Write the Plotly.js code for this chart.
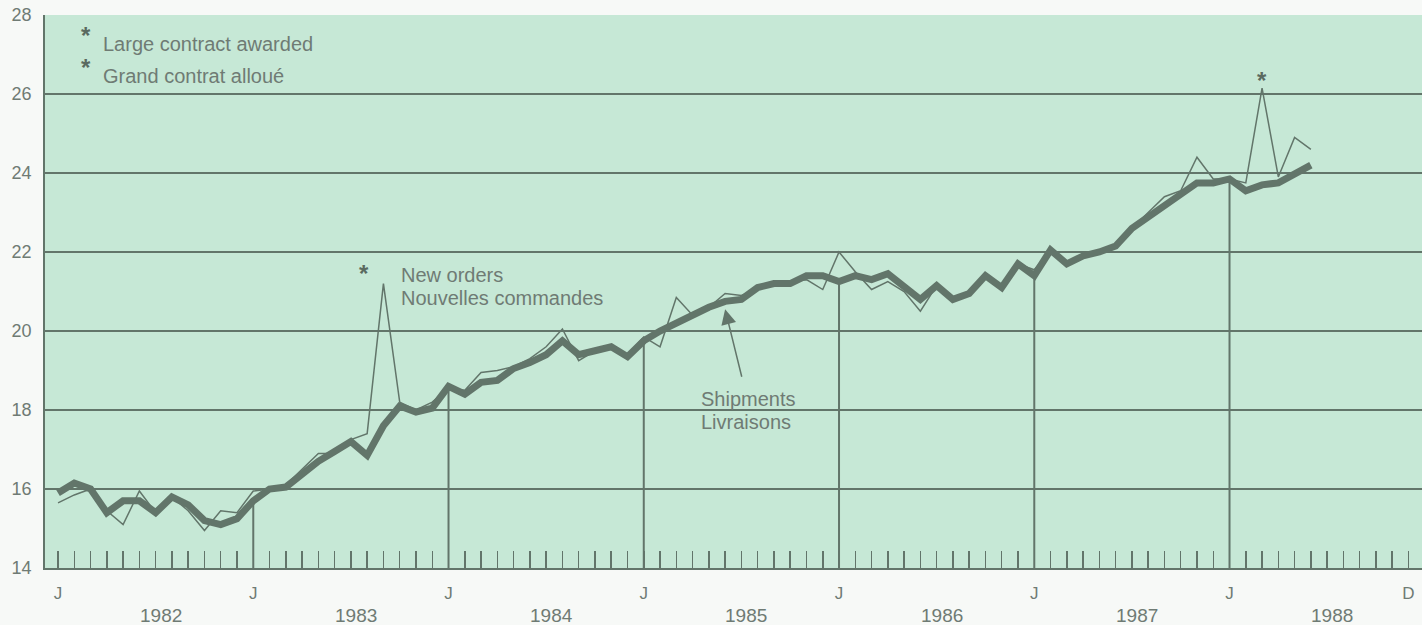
<!DOCTYPE html>
<html>
<head>
<meta charset="utf-8">
<script src="https://cdn.plot.ly/plotly-3.0.1.min.js"></script>
<style>
  html, body { margin: 0; padding: 0; background: #f7f9f7; }
  #chart { width: 1422px; height: 625px; }
</style>
</head>
<body>
<div id="chart"></div>
<script>
// Month index 0 = January 1982
const years = [1982, 1983, 1984, 1985, 1986, 1987, 1988];
const tickMonths = [0, 12, 24, 36, 48, 60, 72, 83];
const tickLabels = ['J', 'J', 'J', 'J', 'J', 'J', 'J', 'D'];

// Shipments / Livraisons (thick line)
const shipments = [
  15.9, 16.15, 16.0, 15.4, 15.7, 15.7, 15.4, 15.8, 15.6, 15.2, 15.1, 15.25,
  15.7, 16.0, 16.05, 16.4, 16.7, 16.95, 17.2, 16.85, 17.6, 18.1, 17.95, 18.05,
  18.6, 18.4, 18.7, 18.75, 19.05, 19.2, 19.4, 19.75, 19.4, 19.5, 19.6, 19.35,
  19.75, 20.0, 20.2, 20.4, 20.6, 20.75, 20.8, 21.1, 21.2, 21.2, 21.4, 21.4,
  21.25, 21.4, 21.3, 21.45, 21.1, 20.8, 21.15, 20.8, 20.95, 21.4, 21.1, 21.7,
  21.4, 22.05, 21.7, 21.9, 22.0, 22.15, 22.6, 22.9, 23.2, 23.5, 23.75, 23.75,
  23.85, 23.55, 23.7, 23.75, 24.0, 24.2
];

// New orders / Nouvelles commandes (thin line)
const newOrders = [
  15.65, 15.85, 16.0, 15.45, 15.1, 15.95, 15.4, 15.8, 15.45, 14.95, 15.45, 15.4,
  15.95, 16.0, 16.1, 16.5, 16.9, 16.9, 17.25, 17.4, 21.2, 18.2, 18.0, 18.2,
  18.55, 18.5, 18.95, 19.0, 19.1, 19.3, 19.6, 20.05, 19.25, 19.5, 19.65, 19.4,
  19.85, 19.6, 20.85, 20.4, 20.6, 20.95, 20.9, 21.05, 21.2, 21.25, 21.3, 21.05,
  22.0, 21.5, 21.05, 21.25, 21.0, 20.5, 21.15, 20.8, 20.95, 21.4, 21.1, 21.7,
  21.55, 22.05, 21.75, 21.95, 22.0, 22.15, 22.6, 23.0, 23.4, 23.55, 24.4, 23.85,
  23.85, 23.75, 26.15, 23.9, 24.9, 24.6
];

const LC = '#62756a';
const TXT = '#6f7b74';
const STAR = '#5a6a60';
const FONT = 'Liberation Sans, Arial, Helvetica, sans-serif';

const months = shipments.map((_, i) => i);

// Drop lines from the axis to the shipments line at each January
const dropX = [], dropY = [];
tickMonths.slice(1, 7).forEach(m => { dropX.push(m, m, null); dropY.push(14, shipments[m], null); });

// pixel -> data helpers for text placement
const X = px => (px - 58) / 16.27;
const Y = py => 14 + (567.5 - py) / 39.46;

const traces = [
  { x: dropX, y: dropY, mode: 'lines', line: { color: LC, width: 2 }, hoverinfo: 'skip' },
  { x: months, y: newOrders, mode: 'lines', name: 'New orders', line: { color: LC, width: 1.5 } },
  { x: months, y: shipments, mode: 'lines', name: 'Shipments', line: { color: LC, width: 7 } }
];

const ann = [];
function txt(t, x, y, size, xanchor, color) {
  ann.push({ text: t, x: x, y: y, xref: 'x', yref: 'y', showarrow: false,
    xanchor: xanchor || 'left', yanchor: 'middle', font: { size: size, color: color || TXT, family: FONT } });
}
txt('<b>*</b>', X(86), Y(36), 24, 'center', STAR);
txt('Large contract awarded', X(101), Y(44), 20);
txt('<b>*</b>', X(86), Y(68), 24, 'center', STAR);
txt('Grand contrat alloué', X(101), Y(76), 20);
txt('<b>*</b>', X(364), Y(273), 24, 'center', STAR);
txt('New orders', X(399), Y(275), 20);
txt('Nouvelles commandes', X(399), Y(298), 20);
txt('Shipments', X(699), Y(399), 20);
txt('Livraisons', X(699), Y(422), 20);
txt('<b>*</b>', 74, newOrders[74] - 0.2, 24, 'center', STAR);
ann[ann.length - 1].yanchor = 'bottom';

years.forEach((yr, i) => {
  ann.push({ text: String(yr), x: i * 12 + 6.3, y: -0.086, xref: 'x', yref: 'paper', showarrow: false,
    xanchor: 'center', yanchor: 'middle', font: { size: 19, color: TXT, family: FONT } });
});

// arrow pointing to shipments line
ann.push({ x: 41, y: shipments[41] - 0.2, xref: 'x', yref: 'y', text: '', showarrow: true,
  ax: 17, ay: 69, arrowhead: 2, arrowsize: 2, arrowwidth: 1.5, arrowcolor: LC });

const layout = {
  width: 1422, height: 625,
  margin: { l: 45, r: 0, t: 15, b: 57 },
  paper_bgcolor: '#f7f9f7', plot_bgcolor: '#c6e8d6',
  showlegend: false,
  font: { family: FONT, color: TXT },
  xaxis: {
    range: [-0.8, 83.83], tickmode: 'array', tickvals: tickMonths, ticktext: tickLabels,
    ticks: 'inside', ticklen: 17, tickwidth: 1.5, tickcolor: LC,
    showgrid: false, zeroline: false, showline: true, linecolor: LC, linewidth: 1.8,
    tickfont: { size: 17, color: TXT, family: FONT }, ticklabelstandoff: 9,
    minor: { tickmode: 'linear', tick0: 0, dtick: 1, ticks: 'inside', ticklen: 17, tickwidth: 1.5, tickcolor: LC, showgrid: false }
  },
  yaxis: {
    range: [14, 28], tickmode: 'linear', tick0: 14, dtick: 2,
    showgrid: true, gridcolor: LC, gridwidth: 1.6, zeroline: false,
    showline: true, linecolor: LC, linewidth: 1.8, ticks: '',
    tickfont: { size: 18, color: TXT, family: FONT }, ticklabelstandoff: 8
  },
  annotations: ann
};

Plotly.newPlot('chart', traces, layout, { displayModeBar: false, staticPlot: true });
</script>
</body>
</html>
